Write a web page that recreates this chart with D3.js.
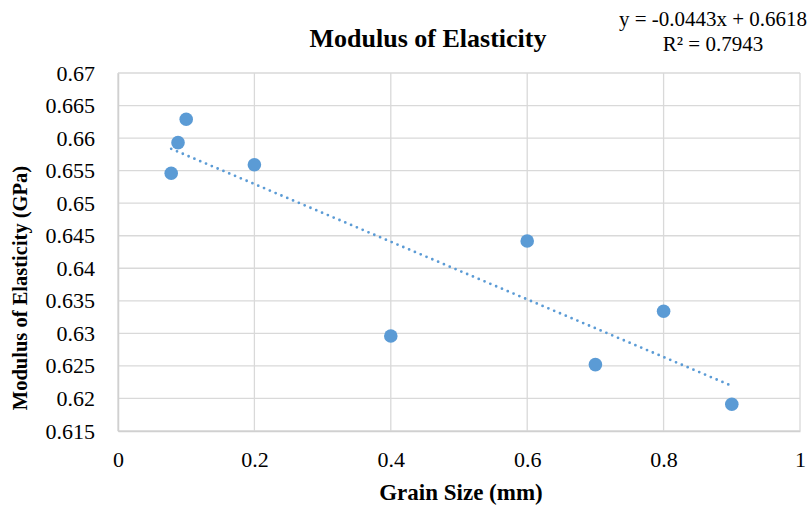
<!DOCTYPE html>
<html>
<head>
<meta charset="utf-8">
<script src="https://cdn.jsdelivr.net/npm/d3@7"></script>
<style>
  body { margin: 0; background: #fff; }
  text { font-family: "Liberation Serif", "Times New Roman", serif; fill: #000; }
</style>
</head>
<body>
<div id="chart"></div>
<script>
// data
const grainSize = [0.078, 0.088, 0.1, 0.2, 0.4, 0.6, 0.7, 0.8, 0.9];
const modulus = [0.6546, 0.6593, 0.6629, 0.6559, 0.6296, 0.6442, 0.6252, 0.6334, 0.6191];
const xTicks = [0, 0.2, 0.4, 0.6, 0.8, 1];
const yTicks = [0.615, 0.62, 0.625, 0.63, 0.635, 0.64, 0.645, 0.65, 0.655, 0.66, 0.665, 0.67];
const trendSlope = -0.0443;
const trendIntercept = 0.6618;
const trendRange = [0.078, 0.9];
const equationLines = ["y = -0.0443x + 0.6618", "R² = 0.7943"];

const width = 810, height = 508;
const margin = { top: 73, right: 10, bottom: 77, left: 118 };

const svg = d3.select('#chart').append('svg')
    .attr('width', width)
    .attr('height', height);

const x = d3.scaleLinear().domain([0, 1]).range([margin.left, width - margin.right]);
const y = d3.scaleLinear().domain([0.615, 0.67]).range([height - margin.bottom, margin.top]);

// gridlines
svg.append('g')
    .selectAll('line.h')
    .data(yTicks)
    .enter().append('line')
    .attr('x1', x(0)).attr('x2', x(1))
    .attr('y1', d => y(d)).attr('y2', d => y(d))
    .attr('stroke', '#d9d9d9')
    .attr('stroke-width', 1.3);

svg.append('g')
    .selectAll('line.v')
    .data(xTicks)
    .enter().append('line')
    .attr('x1', d => x(d)).attr('x2', d => x(d))
    .attr('y1', y(0.615)).attr('y2', y(0.67))
    .attr('stroke', '#d9d9d9')
    .attr('stroke-width', 1.3);

// axes (labels only, lines handled by the grid)
const xAxis = d3.axisBottom(x).tickValues(xTicks).tickSize(0).tickPadding(20).tickFormat(d3.format('~g'));
const yAxis = d3.axisLeft(y).tickValues(yTicks).tickSize(0).tickPadding(23).tickFormat(d3.format('~g'));

svg.append('g')
    .attr('transform', `translate(0, ${y(0.615)})`)
    .attr('font-family', '"Liberation Serif", serif')
    .call(xAxis)
    .call(g => g.select('.domain').attr('stroke', '#d0d0d0').attr('stroke-width', 1.5))
    .selectAll('text')
    .style('font-size', '22px')
    .attr('fill', '#000');

svg.append('g')
    .attr('transform', `translate(${x(0)}, 0)`)
    .attr('font-family', '"Liberation Serif", serif')
    .call(yAxis)
    .call(g => g.select('.domain').attr('stroke', '#d0d0d0').attr('stroke-width', 1.5))
    .selectAll('text')
    .style('font-size', '22px')
    .attr('fill', '#000');

// trendline
svg.append('line')
    .attr('x1', x(trendRange[0]))
    .attr('y1', y(trendSlope * trendRange[0] + trendIntercept))
    .attr('x2', x(trendRange[1]))
    .attr('y2', y(trendSlope * trendRange[1] + trendIntercept))
    .attr('stroke', '#5b9bd5')
    .attr('stroke-width', 2.8)
    .attr('stroke-linecap', 'round')
    .attr('stroke-dasharray', '0 6.3');

// points
svg.append('g')
    .selectAll('circle')
    .data(grainSize)
    .enter().append('circle')
    .attr('cx', d => x(d))
    .attr('cy', (d, i) => y(modulus[i]))
    .attr('r', 6.8)
    .attr('fill', '#5b9bd5');

// title
svg.append('text')
    .attr('x', 428)
    .attr('y', 47)
    .attr('text-anchor', 'middle')
    .style('font-size', '26px')
    .style('font-weight', 'bold')
    .text('Modulus of Elasticity');

// trend equation
svg.append('g')
    .selectAll('text')
    .data(equationLines)
    .enter().append('text')
    .attr('x', 713)
    .attr('y', (d, i) => 26 + i * 25)
    .attr('text-anchor', 'middle')
    .style('font-size', '21px')
    .text(d => d);

// axis titles
svg.append('text')
    .attr('x', 461)
    .attr('y', 500)
    .attr('text-anchor', 'middle')
    .style('font-size', '23px')
    .style('font-weight', 'bold')
    .text('Grain Size (mm)');

svg.append('text')
    .attr('transform', 'translate(27, 288) rotate(-90)')
    .attr('text-anchor', 'middle')
    .style('font-size', '20.5px')
    .style('font-weight', 'bold')
    .text('Modulus of Elasticity (GPa)');
</script>
</body>
</html>
